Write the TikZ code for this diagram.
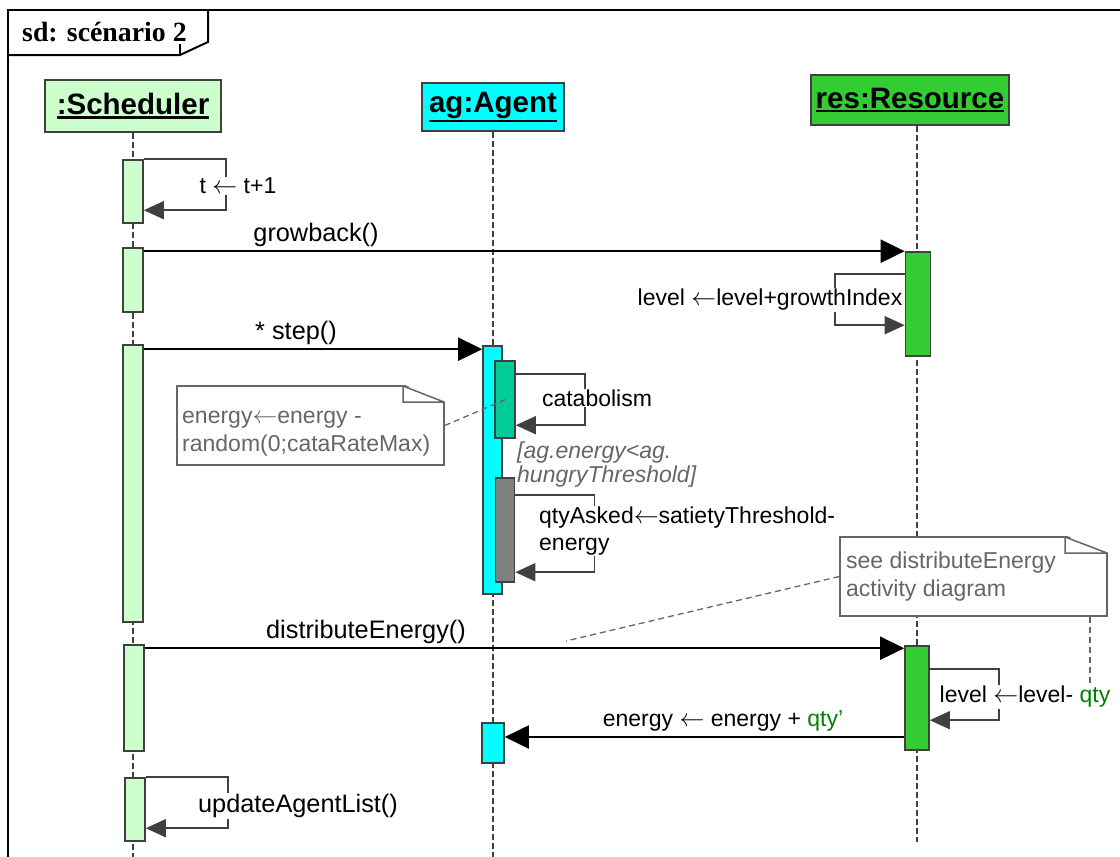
\documentclass[tikz,border=0pt]{standalone}
\usepackage{fontspec}
\setmainfont{Liberation Sans}
\newfontfamily\titleserif{Liberation Serif}
\usetikzlibrary{arrows.meta}

\definecolor{schedfill}{HTML}{CCFFCC}
\definecolor{agfill}{HTML}{00FFFF}
\definecolor{resfill}{HTML}{33CC33}
\definecolor{catafill}{HTML}{00CC99}
\definecolor{askfill}{HTML}{808080}
\definecolor{edge}{HTML}{404040}
\definecolor{notegray}{HTML}{666666}
\definecolor{qtygreen}{HTML}{008000}

% underlined lifeline name, rule set below the text depth
\newcommand{\headname}[1]{\setbox0\hbox{#1}\vtop{\copy0\kern1.5pt\hrule height 2.5pt}}

\begin{document}
\begin{tikzpicture}[x=1pt,y=-1pt,
  lbl/.style={font=\fontsize{23}{27}\selectfont,inner sep=1pt},
  calllbl/.style={lbl,font=\fontsize{25.3}{30}\selectfont},
  selflbl/.style={lbl,fill=white},
  head/.style={draw=edge,line width=2pt,inner sep=0pt,
    font=\fontsize{29.5}{34}\selectfont\bfseries},
  lifeline/.style={draw=edge,line width=1.3pt,dash pattern=on 6pt off 3pt},
  actbar/.style={draw=edge,line width=1.6pt,minimum width=20pt,inner sep=0pt},
  msg/.style={line width=2pt,-{Triangle[length=24pt,width=23pt]}},
  selfmsg/.style={draw=edge,line width=1.6pt,-{Triangle[length=20pt,width=18pt]}},
  notebox/.style={draw=notegray,line width=1.5pt,fill=white,inner sep=0pt,
    minimum width=267pt,minimum height=79pt},
  notetxt/.style={lbl,text=notegray,align=left,anchor=west,
    font=\fontsize{23}{28}\selectfont},
  notelink/.style={draw=notegray,line width=1.3pt,dash pattern=on 6pt off 4pt}]
  \useasboundingbox (0,0) rectangle (1120,857);

  % frame and its tab
  \draw[line width=2.3pt] (8,857) -- (8,10) -- (1120,10);
  \draw[line width=2pt] (8,55) -- (180,55) -- (208,42) -- (208,10);
  \draw[line width=1.5pt] (180,44) -- (180,55);
  \node[anchor=west,inner sep=0pt,font=\titleserif\bfseries\fontsize{27.8}{30}\selectfont]
    (title) at (22,32) {sd: scénario 2};

  % lifelines
  \node[head,fill=schedfill,minimum width=176pt,minimum height=52pt] (sched) at (133,106) {\headname{:Scheduler}};
  \node[head,fill=agfill,minimum width=142pt,minimum height=48pt] (agent) at (493,107) {\headname{ag:Agent}};
  \node[head,fill=resfill,minimum width=198pt,minimum height=50pt] (res) at (910,100) {\headname{res:Resource}};
  \coordinate (schedEnd) at (133,857);
  \coordinate (agentEnd) at (493,857);
  \coordinate (resEnd) at (917,842);
  \draw[lifeline] (sched) -- (schedEnd);
  \draw[lifeline] (agent) -- (agentEnd);
  \draw[lifeline] (res.south -| resEnd) -- (resEnd);

  % activation bars
  \node[actbar,fill=schedfill,minimum height=63pt] (sb1) at (133,191.5) {};
  \node[actbar,fill=schedfill,minimum height=64pt] (sb2) at (133,280) {};
  \node[actbar,fill=schedfill,minimum height=277pt] (sb3) at (133,483.5) {};
  \node[actbar,fill=schedfill,minimum height=106pt] (sb4) at (134,698) {};
  \node[actbar,fill=schedfill,minimum height=63pt] (sb5) at (135,809.5) {};
  \node[actbar,fill=agfill,minimum width=19pt,minimum height=248pt] (ab) at (492.5,470) {};
  \node[actbar,fill=catafill,minimum height=77pt] (ac) at (505,399.5) {};
  \node[actbar,fill=askfill,minimum width=19pt,minimum height=104pt] (ag) at (505,530) {};
  \node[actbar,fill=agfill,minimum width=22pt,minimum height=40pt] (ab2) at (493,743) {};
  \node[actbar,fill=resfill,minimum width=25pt,minimum height=104pt] (rb1) at (918,304) {};
  \node[actbar,fill=resfill,minimum width=24pt,minimum height=104pt] (rb2) at (917,698) {};

  % messages
  \draw[selfmsg] (sb1.north east) -- ++(82,0) -- ++(0,51) -- ++(-82,0);
  \node[selflbl] (tick) at (238,186) {t $\leftarrow$ t+1};

  \draw[msg] (sb2.east |- rb1.north west) -- (rb1.north west);
  \node[calllbl] (growback) at (316,235) {growback()};
  \draw[selfmsg] ([yshift=-23pt]rb1.north west) -- ++(-70,0) -- ++(0,51) -- ++(70,0);
  \node[selflbl] (grow) at (770,300) {level $\leftarrow$level+growthIndex};

  \coordinate (stepTip) at ([yshift=-4pt]ab.north west);
  \draw[msg] (sb3.east |- stepTip) -- (stepTip);
  \node[calllbl] (step) at (296,333) {* step()};
  \draw[selfmsg] ([yshift=-14pt]ac.north east) -- ++(69,0) -- ++(0,51) -- ++(-69,0);
  \node[selflbl] (cata) at (597,398) {catabolism};
  \node[lbl,text=notegray,align=left,anchor=west,font=\fontsize{23}{24}\selectfont\itshape]
    (guard) at (516,465) {[ag.energy<ag.\\hungryThreshold]};
  \draw[selfmsg] ([yshift=-18pt]ag.north east) -- ++(79,0) -- ++(0,77) -- ++(-79,0);
  \node[selflbl,align=left,anchor=west] (ask) at (538,531) {qtyAsked$\leftarrow$satietyThreshold-\\energy};

  \coordinate (distTip) at ([yshift=-3pt]rb2.north west);
  \draw[msg] (sb4.east |- distTip) -- (distTip);
  \node[calllbl] (distribute) at (366,632) {distributeEnergy()};
  \draw[selfmsg] ([yshift=-24pt]rb2.north east) -- ++(69,0) -- ++(0,51) -- ++(-69,0);
  \node[selflbl] (take) at (1025,697) {level $\leftarrow$level- \textcolor{qtygreen}{qty}};

  \coordinate (retTip) at ([yshift=6pt]ab2.east);
  \draw[msg] (rb2.west |- retTip) -- (retTip);
  \node[lbl] (gain) at (723,721) {energy $\leftarrow$ energy + \textcolor{qtygreen}{qty’}};

  \draw[selfmsg] (sb5.north east) -- ++(82,0) -- ++(0,51) -- ++(-82,0);
  \node[selflbl,calllbl,fill=white] (update) at (298,806) {updateAgentList()};

  % notes with folded corner
  \node[notebox] (cataNote) at (310.5,425.5) {};
  \fill[white] (403,384) -- (446,384) -- (446,402) -- cycle;
  \draw[notegray,line width=1.5pt] (403,386) -- (444,402) (403,386) |- (444,402);
  \node[notetxt] (cataTxt) at (181,434) {energy$\leftarrow$energy -\\random(0;cataRateMax)};
  \coordinate (cataHook) at (507,399);
  \draw[notelink] (cataNote.east) -- (cataHook);

  \node[notebox] (distNote) at (973.5,576.5) {};
  \fill[white] (1065,535) -- (1109,535) -- (1109,553) -- cycle;
  \draw[notegray,line width=1.5pt] (1065,537) -- (1107,553) (1065,537) |- (1107,553);
  \node[notetxt] (distTxt) at (845,577) {see distributeEnergy\\activity diagram};
  \coordinate (distHook) at (566,641);
  \coordinate (qtyHook) at (1090,683);
  \draw[notelink] (distNote.west) -- (distHook);
  \draw[notelink] (distNote.south -| qtyHook) -- (qtyHook);
\end{tikzpicture}
\end{document}
